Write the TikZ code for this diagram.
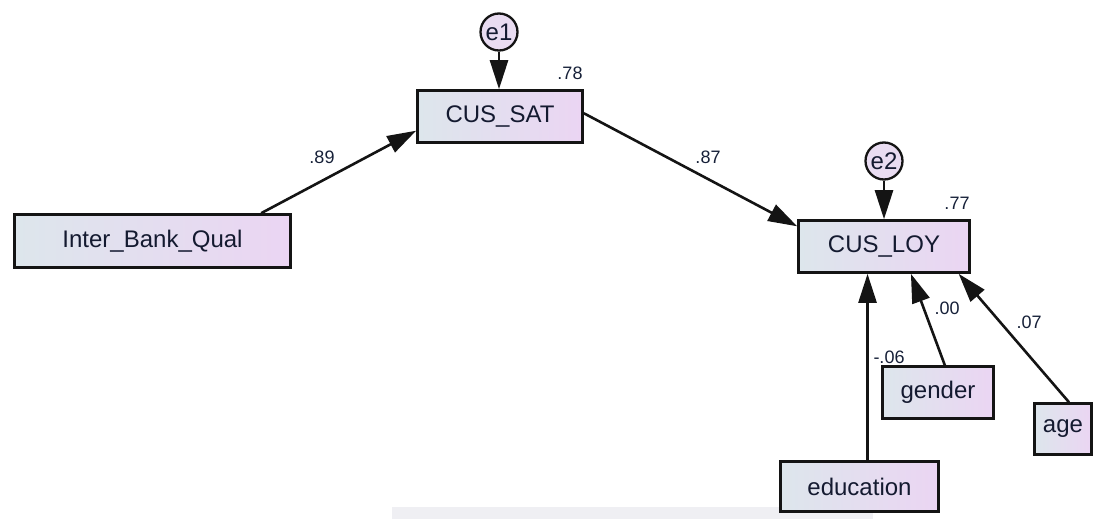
\documentclass[tikz,border=0pt]{standalone}
\usepackage{fontspec}
\setmainfont{Liberation Sans}
\usetikzlibrary{arrows.meta,calc}
\definecolor{boxL}{HTML}{DDE6EC}
\definecolor{boxR}{HTML}{EBD5F3}
\definecolor{circF}{HTML}{E9DCF1}
\definecolor{edge}{HTML}{141414}
\definecolor{txt}{HTML}{141A30}
\definecolor{lbl}{HTML}{162038}
\definecolor{barG}{HTML}{EFEFF3}
\tikzset{
  var/.style={draw=edge, line width=2.6pt, left color=boxL, right color=boxR,
    inner sep=0pt, text=txt, font=\fontsize{24}{24}\selectfont},
  err/.style={draw=edge, line width=2.3pt, fill=circF, circle, inner sep=0pt,
    minimum size=37pt, text=txt, font=\fontsize{24}{24}\selectfont},
  path/.style={draw=edge, line width=2.6pt, -{Triangle[length=29pt,width=18pt]}},
  coef/.style={text=lbl, inner sep=0pt, font=\fontsize{18}{18}\selectfont}
}
\begin{document}
\begin{tikzpicture}[x=1pt,y=-1pt]
\useasboundingbox (0,0) rectangle (1095,519);
\fill[barG] (392,507) rectangle (873,519);
% observed / latent variables
\node[var, minimum width=276pt, minimum height=53pt] (ibq) at (152.5,241) {Inter\_Bank\_Qual};
\node[var, minimum width=165pt, minimum height=52pt] (sat) at (500,116.5) {CUS\_SAT};
\node[var, minimum width=171pt, minimum height=52pt] (loy) at (884,246.5) {CUS\_LOY};
\node[var, minimum width=158pt, minimum height=50pt] (edu) at (859.5,486.5) {education};
\node[var, minimum width=111pt, minimum height=52pt] (gen) at (938,392.5) {gender};
\node[var, minimum width=57pt, minimum height=51pt] (age) at (1063,429) {age};
% error terms
\node[err] (e1) at (499,32) {e1};
\node[err] (e2) at (884,161) {e2};
% coefficients
\node[coef] (r1) at (570,73) {.78};
\node[coef] (r2) at (957,203) {.77};
\node[coef] (c1) at (322,157) {.89};
\node[coef] (c2) at (708,157) {.87};
\node[coef] (c3) at (889,357) {-.06};
\node[coef] (c4) at (947,308) {.00};
\node[coef] (c5) at (1029,322) {.07};
% connectors
\draw[path] (e1.south) -- (e1.south |- sat.north);
\draw[path] (e2.south) -- (e2.south |- loy.north);
\draw[path] ($(ibq.north west)!0.89!(ibq.north east)$) -- ($(sat.north west)!0.76!(sat.south west)$);
\draw[path] ($(sat.north east)!0.44!(sat.south east)$) -- ($(loy.north west)!0.13!(loy.south west)$);
\coordinate (eduTop) at ($(edu.north west)!0.55!(edu.north east)$);
\draw[path] (eduTop) -- (eduTop |- loy.south);
\draw[path] ($(gen.north west)!0.56!(gen.north east)$) -- ($(loy.south west)!0.655!(loy.south east)$);
\draw[path] ($(age.north west)!0.6!(age.north east)$) -- ($(loy.south west)!0.93!(loy.south east)$);
\end{tikzpicture}
\end{document}
